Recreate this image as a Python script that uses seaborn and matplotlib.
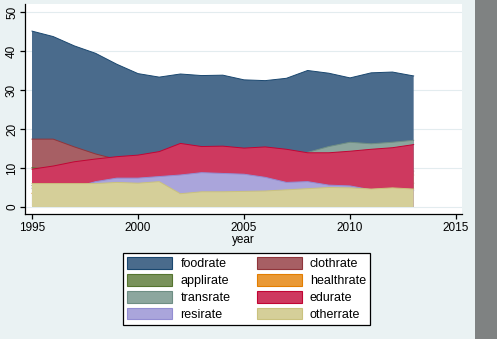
import numpy as np
import pandas as pd
import matplotlib
matplotlib.use("Agg")
import matplotlib.pyplot as plt
import matplotlib.transforms as mtransforms
from matplotlib.patches import Patch, Rectangle
import seaborn as sns

years = list(range(1995, 2014))
foodrate = [45.1, 43.7, 41.3, 39.4, 36.6, 34.2, 33.3, 34.1, 33.7, 33.8, 32.6, 32.4, 33.0, 35.0, 34.3, 33.1, 34.4, 34.6, 33.6]
clothrate = [17.4, 17.4, 15.4, 13.6, 12.2, 11.8, 11.5, 11.3, 11.0, 10.8, 10.6, 10.5, 10.3, 10.0, 9.8, 9.6, 9.5, 9.3, 9.2]
applirate = [10.1, 9.4, 8.9, 8.5, 8.2, 7.9, 7.6, 7.4, 7.2, 7.0, 6.9, 6.8, 6.7, 6.6, 6.5, 6.4, 6.3, 6.2, 6.1]
healthrate = [3.5, 3.8, 4.0, 4.3, 4.6, 5.0, 5.3, 5.6, 5.9, 6.2, 6.5, 6.8, 7.0, 7.2, 7.4, 7.6, 7.8, 8.0, 8.2]
transrate = [5.5, 6.0, 6.5, 7.0, 7.5, 8.0, 8.5, 9.5, 10.5, 11.5, 12.0, 12.8, 13.5, 14.0, 15.5, 16.6, 16.2, 16.6, 17.1]
edurate = [9.7, 10.5, 11.6, 12.3, 12.9, 13.3, 14.2, 16.3, 15.5, 15.6, 15.1, 15.4, 14.8, 13.9, 13.9, 14.3, 14.8, 15.2, 16.0]
resirate = [4.8, 4.9, 5.0, 6.5, 7.4, 7.4, 7.8, 8.2, 8.8, 8.6, 8.4, 7.6, 6.3, 6.5, 5.6, 5.4, 4.4, 4.3, 4.2]
otherrate = [6.0, 6.0, 6.0, 6.0, 6.3, 6.1, 6.5, 3.4, 3.9, 3.9, 4.0, 4.1, 4.4, 4.7, 5.0, 4.9, 4.6, 4.9, 4.6]

series_names = ["foodrate", "clothrate", "applirate", "healthrate",
                "transrate", "edurate", "resirate", "otherrate"]
series_vals = [foodrate, clothrate, applirate, healthrate,
               transrate, edurate, resirate, otherrate]
xticks = [1995, 2000, 2005, 2010, 2015]
yticks = [0, 10, 20, 30, 40, 50]

line_colors = ["#1a476f", "#90353b", "#55752f", "#e37e00",
               "#6e8e84", "#c10534", "#938dd2", "#cac27e"]
fill_colors = ["#4a6b8c", "#a75f64", "#79925b", "#e99936",
               "#8ca69e", "#ce395f", "#aaa5db", "#d5cf99"]

df = pd.DataFrame({"year": years})
for n, v in zip(series_names, series_vals):
    df[n] = v
long = df.melt(id_vars="year", var_name="series", value_name="value")

plt.rcParams["font.family"] = ["Liberation Sans", "DejaVu Sans"]

W, H = 497, 339
fig = plt.figure(figsize=(W / 100, H / 100), dpi=100)
fig.patch.set_facecolor("#eaf2f3")
ax = fig.add_axes([25 / W, 1 - 214 / H, (462 - 25) / W, (214 - 4) / H])
ax.set_facecolor("white")

for i, (name, lc, fc) in enumerate(zip(series_names, line_colors, fill_colors)):
    sub = long[long["series"] == name]
    ax.fill_between(sub["year"], 0, sub["value"], facecolor=fc, edgecolor="none",
                    zorder=2 + 2 * i)
    sns.lineplot(data=sub, x="year", y="value", color=lc, lw=0.7, ax=ax,
                 legend=False, zorder=3 + 2 * i)

ax.set_xlim(1994.67, 2015.28)
ax.set_ylim(-1.8, 52.05)
ax.set_xticks(xticks)
ax.set_yticks(yticks)
ax.set_xticklabels([str(t) for t in xticks])
ax.tick_params(axis="both", direction="out", length=3.6, width=0.9, color="black",
               labelsize=8.5, labelcolor="black")
ax.tick_params(axis="x", pad=2.5)
ax.tick_params(axis="y", labelleft=False)
# y tick labels, drawn vertical like the reference
ytrans = mtransforms.blended_transform_factory(fig.transFigure, ax.transData)
for t in yticks:
    fig.text(12 / W, t, str(t), transform=ytrans, rotation=90,
             rotation_mode="anchor", ha="center", va="center", fontsize=8.5,
             color="black")
ax.yaxis.grid(True, color="#e3ecef", lw=0.8)
ax.xaxis.grid(False)
ax.set_axisbelow(True)
for s in ["top", "right"]:
    ax.spines[s].set_visible(False)
for s in ["left", "bottom"]:
    ax.spines[s].set_color("black")
    ax.spines[s].set_linewidth(0.9)
    ax.spines[s].set_zorder(30)
ax.set_xlabel("year", fontsize=8.5, labelpad=0)
ax.set_ylabel("")

handles = {n: Patch(facecolor=fc, edgecolor=lc, lw=0.8)
           for n, lc, fc in zip(series_names, line_colors, fill_colors)}
order = ["foodrate", "applirate", "transrate", "resirate",
         "clothrate", "healthrate", "edurate", "otherrate"]
leg = fig.legend([handles[n] for n in order], order, ncol=2,
                 loc="upper left", bbox_to_anchor=(123 / W, 1 - 253 / H),
                 borderaxespad=0, fontsize=9, handlelength=3.6, handleheight=1.05,
                 handletextpad=0.65, columnspacing=2.1, labelspacing=0.3,
                 borderpad=0.35, fancybox=False, framealpha=1, frameon=True)
leg.get_frame().set_edgecolor("black")
leg.get_frame().set_linewidth(0.9)
leg.get_frame().set_facecolor("white")

fig.add_artist(Rectangle((475 / W, 0), 22 / W, 1, transform=fig.transFigure,
                         facecolor="#7f8282", edgecolor="none"))

fig.savefig("out.png", dpi=100, facecolor=fig.get_facecolor())
